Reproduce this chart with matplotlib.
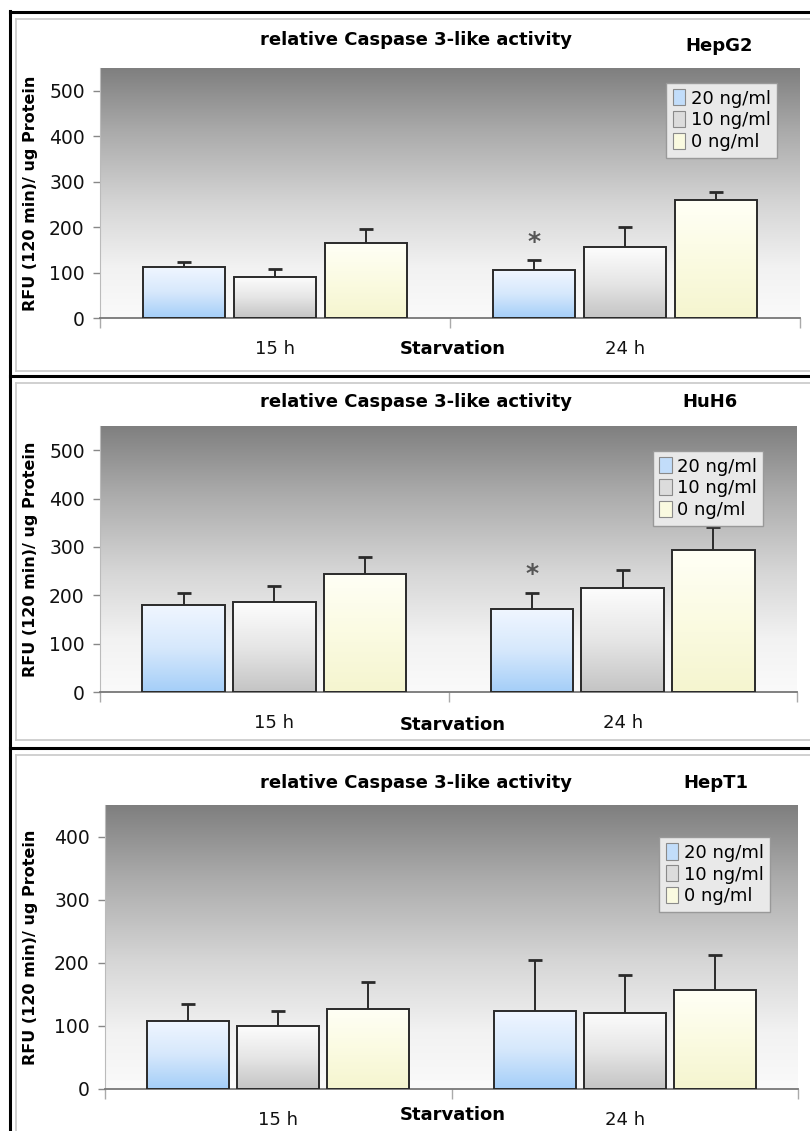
import numpy as np
import matplotlib.pyplot as plt
from matplotlib.colors import LinearSegmentedColormap
from matplotlib.patches import Patch
from matplotlib.lines import Line2D
from matplotlib.transforms import offset_copy

plt.rcParams['font.family'] = ['DejaVu Sans']

# data: mean values and upper error (per panel, per time point)
times = ['15 h', '24 h']
doses = ['20 ng/ml', '10 ng/ml', '0 ng/ml']
cell_lines = ['HepG2', 'HuH6', 'HepT1']

hepg2_mean = [[112, 91, 165], [105, 156, 259]]
hepg2_err = [[12, 17, 30], [23, 44, 19]]
huh6_mean = [[179, 186, 245], [171, 216, 294]]
huh6_err = [[26, 33, 34], [34, 36, 48]]
hept1_mean = [[108, 100, 127], [124, 121, 157]]
hept1_err = [[27, 23, 43], [81, 59, 56]]

y_max = [550, 550, 450]
y_ticks = [range(0, 501, 100), range(0, 501, 100), range(0, 401, 100)]
star_pos = [(1, 0, 177), (1, 0, 252), None]  # (time index, dose index, y)

W, H = 810, 1131
fig = plt.figure(figsize=(W / 100, H / 100), dpi=100)

def fx(px):
    return px / W

def fy(py):
    return 1 - py / H

# plot areas in pixel coords: left, right, top, zero line
areas = [(100, 800, 68, 318), (100, 797, 426, 692), (105, 798, 805, 1089)]
titles_y = [40, 402, 783]
cell_xy = [(719, 46), (710, 402), (716, 783)]
starv_y = [349, 725, 1115]
legend_anchor = [(0.809, 0.94), (0.793, 0.906), (0.80, 0.887)]

bg_cmap = LinearSegmentedColormap.from_list(
    'bg', [(0, '#fafafa'), (0.2, '#f2f2f2'), (0.45, '#d6d6d6'),
           (0.75, '#aaaaaa'), (1, '#7f7f7f')])
bar_cmaps = [
    LinearSegmentedColormap.from_list('b', ['#a4cef8', '#d6e8fc', '#f0f6ff']),
    LinearSegmentedColormap.from_list('g', ['#c4c4c4', '#e6e6e6', '#fdfdfd']),
    LinearSegmentedColormap.from_list('y', ['#f5f5cf', '#fbfbe2', '#fffff6']),
]
legend_colors = ['#c2ddfa', '#dcdcdc', '#fafae0']

means = [hepg2_mean, huh6_mean, hept1_mean]
errs = [hepg2_err, huh6_err, hept1_err]

offsets = [-0.26, 0.0, 0.26]
width = 0.237
grad = np.linspace(0, 1, 256).reshape(-1, 1)

for p in range(3):
    l, r, t, z = areas[p]
    ax = fig.add_axes([fx(l), fy(z), fx(r - l), (z - t) / H])
    ax.set_zorder(1)

    # shaded plot background
    ax.imshow(grad, extent=(-0.5, 1.5, 0, y_max[p]), origin='lower',
              aspect='auto', cmap=bg_cmap, zorder=0)

    x = np.arange(len(times))
    for d in range(len(doses)):
        m = [means[p][i][d] for i in range(len(times))]
        e = [errs[p][i][d] for i in range(len(times))]
        bars = ax.bar(x + offsets[d], m, width, facecolor='none',
                      edgecolor='#2a2a2a', linewidth=1.4, zorder=3)
        for rect in bars:
            bx, bw, bh = rect.get_x(), rect.get_width(), rect.get_height()
            ax.imshow(grad, extent=(bx, bx + bw, 0, bh), origin='lower',
                      aspect='auto', cmap=bar_cmaps[d], zorder=2)
        eb = ax.errorbar(x + offsets[d], m, yerr=[np.zeros(len(m)), e],
                         fmt='none', ecolor='#2a2a2a', elinewidth=1.4,
                         capsize=5, capthick=2, zorder=4)
        # only the upper cap is shown
        eb[1][0].set_visible(False)

    if star_pos[p] is not None:
        ti, di, sy = star_pos[p]
        ax.text(ti + offsets[di], sy, '*', ha='center', va='center',
                fontsize=18, fontweight='bold', color='#555555', zorder=5,
                transform=offset_copy(ax.transData, fig=fig, y=-4,
                                      units='dots'))

    ax.set_xlim(-0.5, 1.5)
    ax.set_ylim(0, y_max[p])
    ax.set_yticks(list(y_ticks[p]))
    ax.tick_params(axis='y', length=5, width=1, color='#888888',
                   labelsize=13.5, labelcolor='#111111', pad=6)
    ax.set_xticks(x, times)
    ax.tick_params(axis='x', length=0, labelsize=13, pad=16,
                   labelcolor='#111111')
    ax.set_xticks([-0.5, 0.5, 1.5], minor=True)
    ax.tick_params(axis='x', which='minor', length=7, width=1,
                   color='#aaaaaa')
    for s in ['top', 'right']:
        ax.spines[s].set_visible(False)
    ax.spines['left'].set_color('#bbbbbb')
    ax.spines['bottom'].set_color('#777777')
    ax.spines['bottom'].set_linewidth(1.3)

    handles = [Patch(facecolor=legend_colors[d], edgecolor='#8a8a8a',
                     linewidth=0.8) for d in range(len(doses))]
    leg = ax.legend(handles, doses, loc='upper left',
                    bbox_to_anchor=legend_anchor[p], borderaxespad=0,
                    fontsize=13, frameon=True, fancybox=False,
                    handlelength=0.7, handleheight=1.0, handletextpad=0.3,
                    labelspacing=0.2, borderpad=0.35)
    leg.get_frame().set_facecolor('#e9e9e9')
    leg.get_frame().set_edgecolor('#999999')
    leg.get_frame().set_linewidth(1.0)
    leg.get_frame().set_alpha(1)

    fig.text(fx(31), fy((t + z) / 2), 'RFU (120 min)/ ug Protein',
             rotation=90, ha='center', va='center', fontsize=11.5,
             fontweight='bold')
    fig.text(fx(416), fy(titles_y[p]), 'relative Caspase 3-like activity',
             ha='center', va='center', fontsize=13, fontweight='bold')
    fig.text(fx(cell_xy[p][0]), fy(cell_xy[p][1]), cell_lines[p],
             ha='center', va='center', fontsize=13, fontweight='bold')
    fig.text(fx(453), fy(starv_y[p]), 'Starvation', ha='center',
             va='center', fontsize=13, fontweight='bold')

# panel frames
for top, bottom in [(19, 371), (383, 740), (755, 1140)]:
    fig.add_artist(Line2D([fx(16), fx(16)], [fy(top), fy(bottom)],
                          color='#c8c8c8', lw=1.2))
    for yy in (top, bottom):
        fig.add_artist(Line2D([fx(16), 1.0], [fy(yy), fy(yy)],
                              color='#c8c8c8', lw=1.2))
for yy in (12, 375.5, 747.5):
    fig.add_artist(Line2D([fx(9.5), 1.0], [fy(yy), fy(yy)],
                          color='black', lw=2.2))
fig.add_artist(Line2D([fx(9.5), fx(9.5)], [fy(11), 0.0], color='black',
                      lw=2.2))

plt.savefig('out.png', dpi=100)
